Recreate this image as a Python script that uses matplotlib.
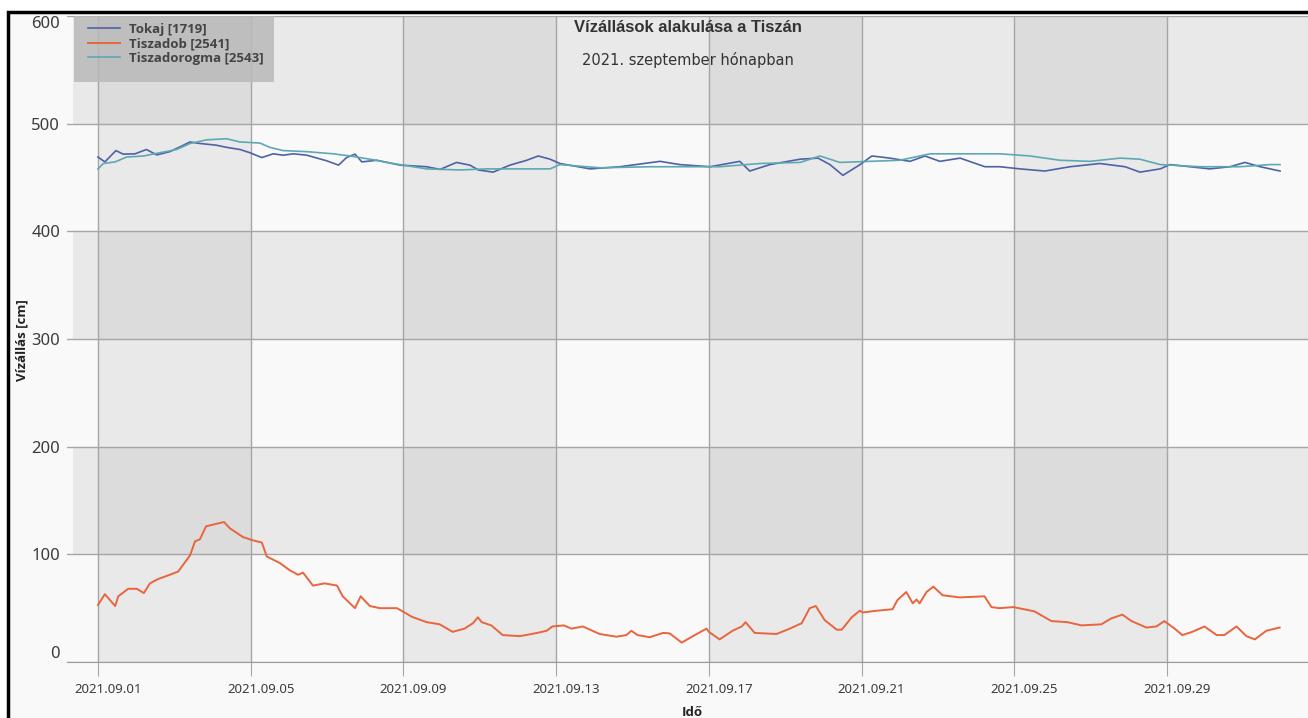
import numpy as np
import pandas as pd
import matplotlib
matplotlib.use("Agg")
import matplotlib.pyplot as plt
import matplotlib.dates as mdates
import matplotlib.transforms as mtransforms
from matplotlib.patches import Rectangle

plt.rcParams["font.family"] = ["Noto Sans", "DejaVu Sans"]

# napok 2021.09.01 00:00-tol, vizallas cm-ben (leolvasva a kepről)
tiszadob_days = [0, 0.18, 0.45, 0.53, 0.79, 1.02, 1.2, 1.36, 1.57, 1.88, 2.1, 2.41, 2.54, 2.67,
                 2.83, 3.06, 3.3, 3.46, 3.8, 4.06, 4.29, 4.42, 4.76, 5.03, 5.24, 5.37, 5.63,
                 5.94, 6.26, 6.41, 6.73, 6.88, 7.12, 7.38, 7.83, 7.98, 8.22, 8.61, 8.95, 9.29,
                 9.6, 9.82, 9.95, 10.05, 10.3, 10.6, 11.05, 11.5, 11.75, 11.9, 12.2, 12.4,
                 12.7, 13.14, 13.58, 13.84, 13.97, 14.13, 14.45, 14.8, 14.97, 15.29, 15.58,
                 15.94, 16.0, 16.28, 16.62, 16.86, 16.96, 17.2, 17.77, 18.12, 18.43, 18.64,
                 18.8, 19.03, 19.35, 19.48, 19.74, 19.95, 20.03, 20.39, 20.81, 20.94, 21.17,
                 21.34, 21.44, 21.52, 21.7, 21.88, 22.12, 22.57, 23.22, 23.4, 23.61, 23.98,
                 24.53, 24.97, 25.39, 25.76, 26.28, 26.54, 26.83, 27.07, 27.46, 27.72, 27.93,
                 28.2, 28.4, 28.66, 28.98, 29.3, 29.5, 29.82, 30.08, 30.3, 30.6, 30.95]
tiszadob_cm = [53, 63, 52, 61, 68, 68, 64, 73, 77, 81, 84, 99, 112, 114,
               126, 128, 130, 124, 116, 113, 111, 98, 92, 85, 81, 83, 71,
               73, 71, 61, 50, 61, 52, 50, 50, 47, 42, 37, 35, 28,
               31, 36, 41.5, 37, 34, 25, 24, 27, 29, 33, 34, 31,
               33, 26, 23.5, 25, 29, 25, 23, 27, 26.6, 18, 24,
               31, 28, 21, 29, 33, 37, 27, 26, 31, 36, 50,
               52, 39, 30, 30, 41.5, 47.6, 46, 47.6, 49, 57.6, 65,
               54.5, 58, 54.5, 65, 70, 62, 60, 61, 51, 50, 51,
               47, 38, 37, 34, 35, 40.5, 44, 38, 32, 33, 38,
               31, 25, 28, 33, 25, 25, 33, 24, 21, 29, 32]

tokaj_days = [0, 0.18, 0.47, 0.66, 0.97, 1.27, 1.54, 1.88, 2.15, 2.41, 2.67, 3.1, 3.37, 3.72,
              3.98, 4.29, 4.59, 4.85, 5.12, 5.47, 5.99, 6.3, 6.51, 6.73, 6.91, 7.3, 7.91,
              8.61, 8.96, 9.39, 9.74, 9.96, 10.35, 10.79, 11.23, 11.53, 11.84, 12.1, 12.89,
              13.67, 14.72, 15.24, 16.03, 16.81, 17.07, 17.6, 18.39, 18.86, 19.17, 19.51,
              19.96, 20.27, 20.74, 21.27, 21.66, 22.05, 22.58, 23.23, 23.62, 24.15, 24.8,
              25.46, 26.24, 26.9, 27.29, 27.82, 28.08, 28.6, 29.12, 29.65, 30.04, 30.44, 30.96]
tokaj_cm = [469, 464.5, 475, 471.7, 472, 476, 471, 474, 478.5, 483, 481.6, 480, 478, 476,
            473, 468.5, 472, 470.7, 472, 470.7, 465.5, 461.5, 468.5, 471.7, 464.5, 466, 461.5,
            460, 457.5, 464, 461.5, 457, 455, 461.5, 466, 470, 467, 463, 458,
            460, 465, 462, 460, 465, 456, 462, 467, 468, 462, 452,
            462, 470, 468, 465, 470, 465, 468, 460, 460, 458, 456,
            460, 463, 460, 455, 458, 462, 460, 458, 460, 464, 460, 456]

tiszadorogma_days = [0, 0.14, 0.45, 0.75, 1.19, 1.62, 2.06, 2.41, 2.85, 3.37, 3.72, 4.24, 4.5,
                     4.85, 5.47, 6.16, 6.6, 7.12, 7.73, 8.61, 9.48, 10.18, 11.23, 11.84, 12.1,
                     13.15, 14.46, 15.77, 16.29, 17.34, 18.39, 18.91, 19.43, 20.22, 21.0, 21.79,
                     22.58, 23.62, 24.41, 25.2, 25.98, 26.77, 27.29, 27.82, 28.86, 29.91, 30.7, 30.96]
tiszadorogma_cm = [458, 463, 464.5, 469, 470, 473, 476, 481.6, 485, 486, 483, 482, 478,
                   475, 474, 472, 470, 467, 463, 458, 457, 458, 458, 458, 462,
                   459, 460, 460, 460, 463, 464, 470, 464, 465, 466, 472,
                   472, 472, 470, 466, 465, 468, 467, 462, 460, 460, 462, 462]

series_names = ["Tokaj [1719]", "Tiszadob [2541]", "Tiszadorogma [2543]"]
series_colors = ["#4f62a6", "#e8653d", "#5ea8b2"]

x_ticks = ["2021-09-01", "2021-09-05", "2021-09-09", "2021-09-13", "2021-09-17",
           "2021-09-21", "2021-09-25", "2021-09-29"]
y_ticks = [0, 100, 200, 300, 400, 500, 600]

start = pd.Timestamp("2021-09-01")
BOLD = ["Open Sans", "Lato", "DejaVu Sans"]


def to_dates(days):
    return start + pd.to_timedelta(np.array(days), unit="D")


W, H = 1308, 718
fig = plt.figure(figsize=(W / 100, H / 100), dpi=100, facecolor="white")
# keret (kepernyokep szele)
fig.patches.append(Rectangle((8 / W, -0.01), 1.02, 1 - 12 / H + 0.01, transform=fig.transFigure,
                             facecolor="#f9f9f9", edgecolor="black", lw=2.5, zorder=-10))

ax = fig.add_axes([67 / W, 1 - 662 / H, (W - 67) / W, (662 - 16) / H])
ax.set_facecolor("none")

x_left = start + pd.Timedelta(days=(67 - 98) / 38.18)
x_right = start + pd.Timedelta(days=(W - 98) / 38.18)
shade_left = start + pd.Timedelta(days=(73 - 98) / 38.18)

# sakktabla hatter
col_edges = [shade_left] + [pd.Timestamp(t) for t in x_ticks] + [x_right]
for i in range(len(col_edges) - 1):
    x0 = mdates.date2num(col_edges[i])
    x1 = mdates.date2num(col_edges[i + 1])
    col_gray = (i % 2 == 1)
    for j in range(6):
        row_gray = (j % 2 == 1)
        n = int(col_gray) + int(row_gray)
        c = ["#f9f9f9", "#e9e9e9", "#dcdcdc"][n]
        ax.add_patch(Rectangle((x0, y_ticks[j]), x1 - x0, 100, facecolor=c,
                               edgecolor="none", zorder=0))

ax.plot(to_dates(tokaj_days), tokaj_cm, color=series_colors[0], lw=1.2, label=series_names[0], zorder=3)
ax.plot(to_dates(tiszadob_days), tiszadob_cm, color=series_colors[1], lw=1.4, label=series_names[1], zorder=3)
ax.plot(to_dates(tiszadorogma_days), tiszadorogma_cm, color=series_colors[2], lw=1.2,
        label=series_names[2], zorder=3)

ax.set_xlim(x_left, x_right)
ax.set_ylim(0, 600)
ax.set_xticks([pd.Timestamp(t) for t in x_ticks])
ax.xaxis.set_major_formatter(mdates.DateFormatter("%Y.%m.%d"))
ax.set_yticks(y_ticks)
ax.grid(True, color="#a6a6a6", lw=1, zorder=1)
for g in ax.get_xgridlines() + ax.get_ygridlines():
    g.set_zorder(1)

for s in ["top", "right", "left"]:
    ax.spines[s].set_visible(False)
ax.spines["bottom"].set_color("#9a9a9a")
ax.tick_params(axis="x", length=10, color="#a6a6a6", pad=5, labelsize=9.5, labelcolor="#3c3c3c")
ax.tick_params(axis="y", length=0, pad=5, labelsize=12, labelcolor="#3c3c3c")
shift = mtransforms.ScaledTranslation(10 / 100, 0, fig.dpi_scale_trans)
for t in ax.xaxis.get_major_ticks():
    t.label1.set_transform(t.label1.get_transform() + shift)
yt = ax.yaxis.get_major_ticks()
yt[0].label1.set_va("bottom")
yt[-1].label1.set_va("top")

# jelmagyarazat hattere
ax.add_patch(Rectangle((74 / W, 1 - 82 / H), 200 / W, 66 / H, transform=fig.transFigure,
                       facecolor="#b9b9b9", alpha=0.85, edgecolor="none", zorder=4, clip_on=False))
leg = ax.legend(loc="upper left", bbox_to_anchor=((78 - 67) / (W - 67), 1.0 + 3 / 646),
                borderaxespad=0, frameon=False,
                prop={"family": BOLD, "weight": "bold", "size": 9.5},
                handlelength=2.4, handletextpad=0.75, labelspacing=0.1, borderpad=0.75)
for t in leg.get_texts():
    t.set_color("#444444")
leg.set_zorder(5)

cx = (67 + W) / 2 / W
fig.text(cx, 1 - 28 / H, "Vízállások alakulása a Tiszán", ha="center", va="center",
         family="Liberation Sans", weight="bold", fontsize=12, color="#333333")
fig.text(cx, 1 - 60 / H, "2021. szeptember hónapban", ha="center", va="center",
         family="DejaVu Sans", fontsize=10.5, color="#333333")
fig.text(22 / W, 1 - 340 / H, "Vízállás [cm]", rotation=90, ha="center", va="center",
         family=BOLD, weight="bold", fontsize=9.5, color="#222222")
fig.text(692 / W, 1 - 712 / H, "Idő", ha="center", va="center",
         family=BOLD, weight="bold", fontsize=9.5, color="#222222")

fig.savefig("out.png", dpi=100, facecolor=fig.get_facecolor())
